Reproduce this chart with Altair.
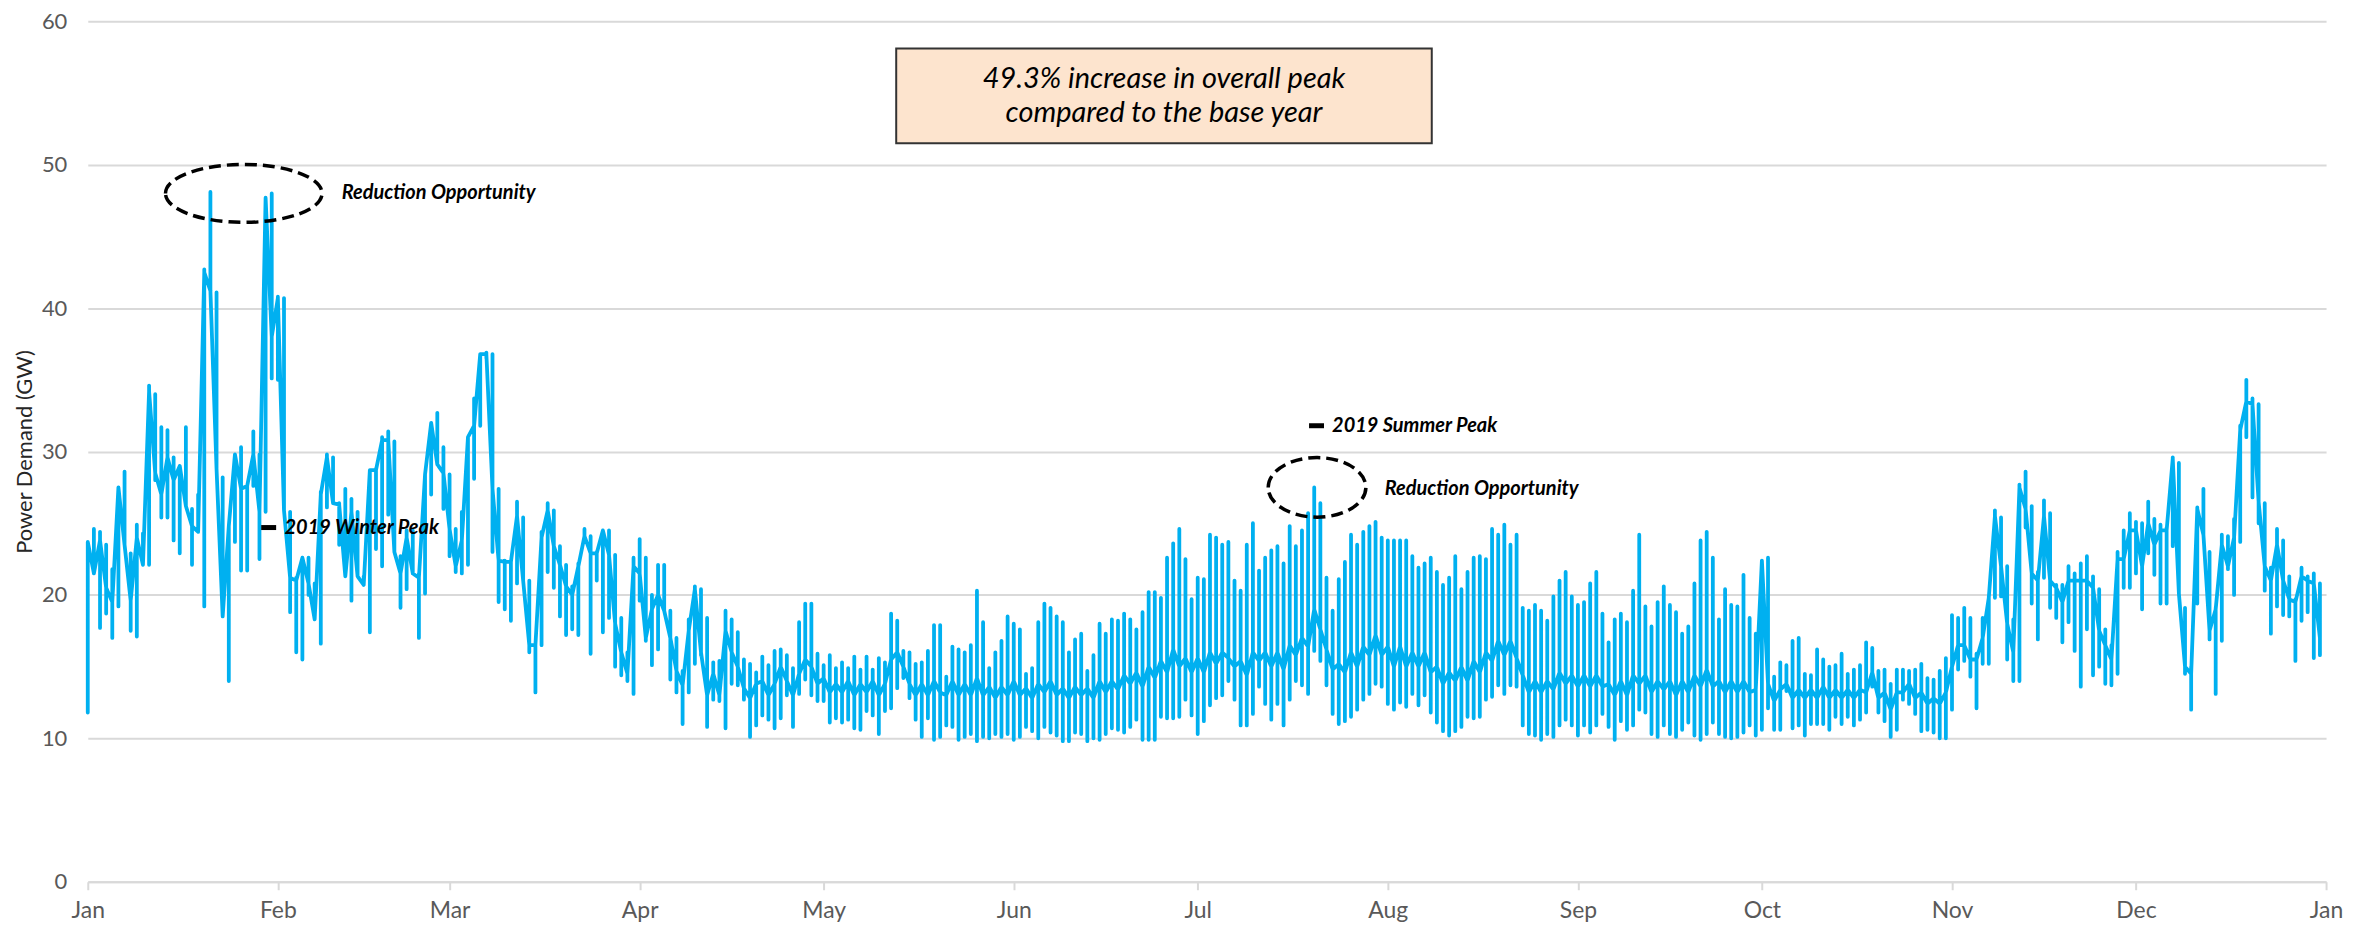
import altair as alt
import pandas as pd

# ---- daily values (GW): lowest, highest and the overnight level of each day of 2019
DAY_LOW = [
    11.8, 21.9, 17.7, 18.7, 17.0, 19.2, 23.7, 17.5, 17.1, 22.1,
    22.1, 28.0, 25.4, 25.4, 23.8, 22.9, 26.6, 22.1, 24.4, 19.2,
    41.2, 29.3, 19.2, 14.0, 23.7, 21.7, 21.7, 27.6, 22.5, 25.8,
    35.1, 35.0, 26.0, 18.8, 16.0, 15.5, 20.0, 18.3, 16.6, 26.1,
    26.4, 23.5, 21.3, 19.6, 21.5, 20.7, 17.4, 23.2, 22.0, 25.6,
    23.4, 19.1, 20.4, 21.5, 17.0, 20.1, 27.0, 29.1, 26.0, 22.7,
    21.6, 21.5, 22.1, 28.1, 31.8, 36.5, 23.0, 19.5, 19.0, 18.2,
    20.8, 21.0, 16.0, 13.2, 16.5, 21.6, 20.5, 18.5, 17.2, 17.6,
    17.2, 23.9, 15.9, 21.0, 17.4, 18.4, 15.0, 14.4, 14.0, 13.1,
    19.6, 16.8, 15.1, 16.2, 18.9, 14.1, 13.2, 11.0, 13.2, 15.2,
    15.8, 10.8, 12.7, 12.6, 10.7, 13.8, 13.7, 12.7, 10.1, 10.9,
    11.6, 11.3, 10.7, 11.4, 13.0, 10.8, 13.1, 14.1, 13.0, 12.6,
    12.6, 11.1, 11.4, 11.1, 11.3, 10.7, 10.6, 11.9, 11.6, 10.3,
    11.9, 12.1, 13.5, 14.2, 12.8, 11.3, 10.1, 11.4, 9.9, 10.1,
    10.9, 10.8, 9.9, 10.1, 10.3, 9.8, 10.1, 10.0, 10.3, 10.1,
    10.3, 9.9, 10.1, 10.8, 10.5, 10.0, 10.8, 10.4, 10.2, 9.8,
    9.8, 10.4, 10.3, 9.8, 10.0, 9.9, 10.3, 10.7, 10.6, 10.4,
    10.8, 11.3, 9.9, 9.9, 9.9, 11.5, 11.4, 11.4, 11.5, 12.7,
    11.6, 10.3, 11.2, 12.3, 12.8, 13.0, 14.0, 12.7, 10.9, 10.9,
    11.7, 13.6, 12.4, 11.3, 12.4, 10.9, 12.7, 14.0, 13.7, 13.1,
    16.1, 15.4, 13.7, 11.7, 11.0, 11.2, 11.5, 12.0, 12.7, 13.1,
    13.8, 13.6, 12.4, 12.0, 12.5, 12.2, 13.1, 12.3, 13.0, 11.8,
    11.1, 10.5, 10.2, 10.5, 10.8, 11.5, 11.4, 11.5, 12.7, 12.9,
    13.7, 13.1, 13.7, 13.6, 10.9, 10.3, 10.2, 9.9, 10.3, 10.1,
    10.9, 11.3, 10.9, 10.2, 10.9, 10.4, 10.9, 11.7, 10.8, 9.9,
    11.2, 10.6, 10.9, 12.0, 11.8, 10.3, 10.1, 10.9, 10.3, 10.1,
    10.6, 11.1, 10.2, 9.9, 10.3, 11.1, 10.3, 10.1, 10.0, 10.1,
    10.4, 10.9, 10.2, 10.6, 12.1, 10.6, 10.6, 13.3, 10.7, 10.9,
    10.2, 11.0, 11.0, 11.0, 10.6, 11.5, 11.0, 11.5, 10.9, 11.3,
    11.8, 13.6, 11.8, 11.2, 10.1, 10.6, 12.7, 12.4, 11.7, 10.5,
    10.6, 10.4, 10.0, 10.0, 12.0, 14.8, 15.4, 14.3, 12.1, 15.2,
    15.2, 19.8, 19.9, 15.5, 14.0, 14.0, 24.7, 19.4, 16.9, 21.2,
    19.1, 18.4, 16.7, 18.1, 16.1, 13.6, 17.6, 14.4, 15.0, 13.8,
    13.7, 14.5, 20.5, 20.5, 21.5, 19.0, 22.9, 21.4, 19.4, 19.4,
    23.4, 20.1, 14.5, 12.0, 19.4, 24.2, 16.9, 13.1, 16.8, 21.8,
    20.0, 23.7, 31.0, 26.8, 25.0, 20.3, 17.3, 19.2, 18.6, 18.5,
    15.4, 18.2, 18.8, 15.6, 15.8,
]

DAY_HIGH = [
    23.7, 24.6, 24.4, 23.5, 21.8, 27.5, 28.6, 22.9, 24.9, 24.3,
    34.6, 34.0, 31.7, 31.5, 29.6, 29.0, 31.7, 26.0, 27.0, 42.7,
    48.1, 41.1, 28.2, 24.8, 29.8, 30.3, 27.4, 31.4, 29.8, 47.7,
    48.0, 40.8, 40.7, 25.8, 21.2, 22.6, 22.6, 20.8, 27.2, 29.8,
    29.6, 26.4, 27.4, 26.7, 25.8, 21.3, 28.7, 28.8, 31.0, 31.4,
    30.7, 22.7, 24.5, 24.5, 21.5, 28.4, 32.0, 32.7, 30.3, 28.4,
    24.6, 25.8, 31.0, 33.7, 36.8, 36.9, 36.8, 27.4, 22.4, 22.3,
    26.5, 25.4, 21.0, 16.5, 24.4, 26.4, 25.9, 23.4, 22.1, 20.6,
    22.2, 24.6, 24.1, 23.0, 24.5, 24.5, 22.8, 18.4, 16.0, 22.6,
    23.9, 22.6, 20.0, 22.1, 22.1, 18.9, 17.0, 14.7, 18.3, 20.6,
    20.4, 18.4, 15.3, 15.4, 18.9, 18.3, 17.4, 15.5, 15.2, 14.6,
    15.7, 15.1, 16.1, 16.2, 15.8, 14.9, 18.1, 19.4, 19.4, 15.9,
    15.1, 15.8, 14.9, 15.3, 14.9, 15.7, 14.8, 15.7, 14.8, 15.6,
    15.3, 18.7, 18.2, 16.1, 16.0, 15.2, 15.3, 16.1, 17.9, 17.9,
    14.3, 16.4, 16.2, 16.0, 16.5, 20.3, 18.1, 14.9, 16.0, 16.8,
    18.5, 18.0, 17.6, 14.5, 14.9, 18.1, 19.4, 19.1, 18.5, 18.1,
    16.0, 16.9, 17.3, 14.7, 15.8, 18.0, 17.3, 18.3, 18.2, 18.7,
    18.3, 17.6, 18.8, 20.2, 20.2, 19.8, 22.6, 23.6, 24.6, 22.5,
    19.7, 21.2, 21.1, 24.2, 24.0, 23.5, 23.7, 21.0, 20.3, 23.5,
    25.0, 21.7, 22.6, 23.1, 23.4, 22.2, 24.8, 23.4, 24.5, 25.7,
    27.5, 26.4, 21.2, 18.9, 21.1, 22.3, 24.2, 23.5, 24.4, 24.8,
    25.1, 24.0, 23.8, 23.8, 23.8, 23.8, 22.7, 21.9, 22.2, 22.6,
    21.6, 20.7, 21.2, 22.7, 20.4, 21.6, 22.6, 22.7, 22.5, 24.6,
    24.2, 24.9, 23.5, 24.2, 19.1, 18.9, 19.3, 18.9, 18.2, 19.9,
    21.0, 21.6, 19.9, 19.3, 19.5, 20.8, 21.6, 18.7, 16.7, 18.3,
    18.7, 18.1, 20.3, 24.2, 19.2, 17.8, 19.5, 20.6, 19.3, 18.8,
    17.3, 17.8, 20.8, 23.8, 24.4, 22.6, 18.3, 20.4, 19.3, 19.2,
    21.4, 18.4, 17.3, 22.4, 22.6, 14.3, 15.3, 15.1, 16.8, 17.0,
    14.5, 14.4, 16.2, 15.5, 15.0, 15.1, 15.9, 14.5, 14.8, 15.1,
    16.7, 16.3, 14.7, 14.8, 13.8, 14.8, 14.8, 14.7, 14.8, 15.2,
    14.2, 14.1, 14.7, 15.6, 18.6, 18.4, 19.1, 18.4, 15.9, 18.4,
    19.9, 25.9, 25.4, 22.0, 18.3, 27.7, 28.6, 26.2, 21.6, 26.6,
    25.7, 20.7, 20.7, 22.0, 21.5, 22.2, 22.7, 21.3, 20.4, 17.6,
    16.5, 23.0, 24.5, 25.7, 25.1, 25.0, 26.5, 25.3, 24.9, 24.7,
    29.6, 29.2, 19.1, 15.0, 26.1, 27.4, 23.0, 19.1, 24.2, 24.1,
    25.3, 31.8, 35.0, 33.7, 33.3, 26.4, 21.9, 24.6, 23.8, 21.3,
    19.7, 21.9, 21.3, 21.5, 20.8,
]

DAY_MID = [
    23.7, 21.5, 23.8, 20.5, 19.5, 27.5, 23.5, 19.6, 24.0, 22.1,
    34.2, 28.5, 27.0, 29.6, 28.0, 29.0, 26.2, 24.8, 24.4, 42.5,
    41.2, 28.8, 18.5, 24.8, 29.8, 27.4, 27.6, 29.8, 25.8, 47.7,
    38.0, 40.7, 25.9, 21.2, 21.0, 22.6, 20.8, 18.3, 27.0, 29.6,
    26.4, 26.3, 21.3, 25.8, 21.3, 20.7, 28.7, 28.7, 30.8, 30.8,
    23.0, 21.5, 24.0, 21.5, 21.2, 28.4, 32.0, 29.1, 28.5, 24.6,
    22.0, 23.8, 31.0, 31.8, 36.8, 36.8, 27.4, 22.4, 22.3, 22.3,
    25.5, 21.0, 16.5, 16.5, 24.0, 25.9, 23.4, 22.1, 20.6, 20.0,
    22.0, 24.1, 22.9, 22.9, 24.5, 22.8, 18.0, 16.0, 14.5, 22.0,
    21.5, 17.0, 19.0, 20.0, 18.9, 17.0, 14.7, 13.7, 17.5, 20.4,
    16.0, 13.0, 14.5, 13.0, 17.5, 16.0, 15.0, 13.5, 12.8, 13.8,
    14.0, 13.0, 13.8, 15.0, 14.0, 13.0, 14.5, 15.5, 15.0, 13.8,
    14.2, 13.2, 13.8, 13.2, 14.0, 13.0, 13.8, 13.2, 14.0, 13.0,
    13.8, 15.5, 16.0, 15.0, 13.8, 13.0, 13.8, 13.0, 14.0, 13.2,
    13.0, 14.0, 13.0, 13.8, 13.0, 14.2, 13.0, 13.6, 12.8, 13.6,
    13.0, 14.0, 13.0, 13.5, 12.8, 13.8, 13.2, 14.0, 13.0, 13.5,
    12.8, 13.6, 13.0, 13.5, 12.8, 14.0, 13.2, 14.0, 13.4, 14.4,
    13.8, 14.6, 13.6, 15.0, 14.2, 15.4, 14.6, 16.2, 15.0, 15.6,
    14.6, 15.6, 14.6, 16.0, 15.2, 16.0, 15.6, 15.0, 15.4, 14.4,
    16.0, 15.4, 16.0, 15.0, 16.0, 14.8, 16.5, 15.8, 17.0, 16.4,
    19.0, 17.6, 16.2, 14.8, 15.2, 14.6, 16.0, 15.0, 16.4, 15.8,
    17.2, 15.8, 16.4, 15.0, 16.4, 15.0, 16.0, 15.0, 16.0, 14.6,
    15.0, 13.8, 14.6, 14.0, 15.0, 14.0, 15.4, 14.6, 16.0, 15.4,
    16.8, 15.8, 16.8, 15.6, 14.4, 13.2, 14.0, 13.2, 14.0, 13.4,
    14.6, 13.8, 14.4, 13.6, 14.4, 13.6, 14.4, 13.6, 13.8, 13.0,
    14.0, 13.0, 14.4, 13.8, 14.4, 13.2, 14.0, 13.4, 14.0, 13.0,
    14.0, 13.2, 14.4, 13.6, 14.8, 13.6, 14.0, 13.2, 14.0, 13.2,
    14.0, 13.2, 13.4, 22.4, 13.8, 12.6, 13.4, 13.8, 12.8, 13.4,
    12.8, 13.4, 12.8, 13.6, 12.8, 13.4, 12.8, 13.4, 12.8, 13.4,
    13.2, 14.6, 12.8, 13.2, 12.0, 13.2, 13.2, 13.8, 12.8, 13.2,
    12.4, 12.8, 12.4, 13.2, 15.0, 16.5, 16.5, 15.5, 15.5, 17.0,
    19.8, 25.5, 22.0, 18.0, 16.0, 27.5, 26.0, 21.5, 21.0, 25.5,
    21.0, 20.5, 19.5, 21.0, 21.0, 21.0, 21.0, 20.5, 17.5, 16.5,
    15.5, 22.5, 22.5, 24.5, 24.5, 22.0, 25.0, 23.5, 24.5, 24.5,
    29.5, 20.1, 15.0, 14.5, 26.0, 24.2, 17.5, 19.0, 23.5, 22.0,
    24.0, 31.5, 33.5, 33.3, 26.5, 22.0, 21.0, 23.5, 21.0, 19.7,
    19.5, 21.3, 21.0, 20.8, 17.0,
]

MONTH_TICKS = [f"2019-{m:02d}-01" for m in range(1, 13)] + ["2020-01-01"]
Y_TICKS = [0, 10, 20, 30, 40, 50, 60]

# annotations
BOX_TEXT = ["49.3%  increase in overall peak", "compared to the base year"]
BOX_TEXT_V = [56.0, 53.6]
BOX_T = "2019-06-25T12:00:00"
BOX_T1, BOX_T2 = "2019-05-12T20:00:00", "2019-08-08T04:00:00"
BOX_V1, BOX_V2 = 58.1, 51.5

PEAK_T = ["2019-01-30T12:00:00", "2019-07-20T09:00:00"]
PEAK_V = [24.7, 31.8]
LABELS = ["2019 Winter Peak", "2019 Summer Peak", "Reduction  Opportunity", "Reduction  Opportunity"]
LABEL_T = ["2019-02-02T02:00:00", "2019-07-22T22:00:00", "2019-02-11T10:00:00", "2019-07-31T12:00:00"]
LABEL_V = [24.7, 31.8, 48.0, 27.4]
ELLIPSE_T = ["2019-01-26T10:30:00", "2019-07-20T11:00:00"]
ELLIPSE_V = [48.0, 27.5]

assert len(DAY_LOW) == len(DAY_HIGH) == len(DAY_MID) == 365

dates = pd.date_range("2019-01-01", periods=365, freq="D")
rows = []
seq = 0
for d, lo, hi, mid in zip(dates, DAY_LOW, DAY_HIGH, DAY_MID):
    t = d.strftime("%Y-%m-%dT00:00:00")
    for v in (mid, lo, hi, mid):
        rows.append({"t": t, "v": v, "seq": seq})
        seq += 1
df = pd.DataFrame(rows)

x_scale = alt.Scale(domain=["2019-01-01T00:00:00", "2020-01-01T00:00:00"], nice=False)
y_scale = alt.Scale(domain=[0, 60], nice=False)

month_vals = [alt.DateTime(year=int(s[:4]), month=int(s[5:7]), date=1) for s in MONTH_TICKS]

line = alt.Chart(df).mark_line(
    color="#00B0F0", strokeWidth=3.8, strokeJoin="round", strokeCap="round"
).encode(
    x=alt.X("t:T", scale=x_scale, title=None,
            axis=alt.Axis(values=month_vals, format="%b", grid=False,
                          domainColor="#D9D9D9", domainWidth=2,
                          tickColor="#D9D9D9", tickWidth=2, tickSize=8,
                          labelFontSize=23, labelColor="#595959", labelPadding=10,
                          labelFlush=False)),
    y=alt.Y("v:Q", scale=y_scale, title="Power Demand (GW)",
            axis=alt.Axis(values=Y_TICKS, grid=True, gridColor="#D9D9D9", gridWidth=2,
                          domain=False, ticks=False, labelFontSize=22, labelColor="#595959",
                          labelPadding=21, titleFontSize=22, titleFontWeight="normal",
                          titleColor="#262626", titlePadding=5)),
    order="seq:Q",
)

box_df = pd.DataFrame({"t": [BOX_T1], "t2": [BOX_T2], "v": [BOX_V1], "v2": [BOX_V2]})
box = alt.Chart(box_df).mark_rect(fill="#FDE4CE", stroke="#333333", strokeWidth=2).encode(
    x="t:T", x2="t2:T", y="v:Q", y2="v2:Q"
)

box_text_df = pd.DataFrame({"t": [BOX_T] * 2, "v": BOX_TEXT_V, "label": BOX_TEXT})
box_text = alt.Chart(box_text_df).mark_text(
    font="Lato", fontStyle="italic", fontSize=29, color="#000000", align="center", baseline="middle"
).encode(x="t:T", y="v:Q", text="label:N")

ELL_WIDE = ("M-1,0 C-1,-0.204 -0.5523,-0.37 0,-0.37 C0.5523,-0.37 1,-0.204 1,0 "
            "C1,0.204 0.5523,0.37 0,0.37 C-0.5523,0.37 -1,0.204 -1,0 Z")
ELL_ROUND = ("M-1,0 C-1,-0.337 -0.5523,-0.61 0,-0.61 C0.5523,-0.61 1,-0.337 1,0 "
             "C1,0.337 0.5523,0.61 0,0.61 C-0.5523,0.61 -1,0.337 -1,0 Z")

ell1 = alt.Chart(pd.DataFrame({"t": [ELLIPSE_T[0]], "v": [ELLIPSE_V[0]]})).mark_point(
    shape=ELL_WIDE, size=157 ** 2, filled=False, color="#000000", opacity=1,
    strokeWidth=3.5, strokeDash=[12, 6]
).encode(x="t:T", y="v:Q")

ell2 = alt.Chart(pd.DataFrame({"t": [ELLIPSE_T[1]], "v": [ELLIPSE_V[1]]})).mark_point(
    shape=ELL_ROUND, size=98 ** 2, filled=False, color="#000000", opacity=1,
    strokeWidth=3.5, strokeDash=[12, 6]
).encode(x="t:T", y="v:Q")

peaks = alt.Chart(pd.DataFrame({"t": PEAK_T, "v": PEAK_V})).mark_tick(
    orient="horizontal", color="#000000", opacity=1, thickness=5, size=15
).encode(x="t:T", y="v:Q")

labels = alt.Chart(pd.DataFrame({"t": LABEL_T, "v": LABEL_V, "label": LABELS})).mark_text(
    font="Lato", fontStyle="italic", fontWeight="bold", fontSize=20, color="#000000",
    align="left", baseline="middle"
).encode(x="t:T", y="v:Q", text="label:N")

chart = alt.layer(line, box, box_text, ell1, ell2, peaks, labels).properties(
    width=2245, height=863,
    autosize=alt.AutoSizeParams(type="none"),
    padding={"left": 80, "top": 12, "right": 22, "bottom": 42},
).configure_view(stroke=None).configure_axis(
    labelFont="Lato", titleFont="Lato"
)

chart.save("out.html", embed_options={"renderer": "svg", "actions": False})
